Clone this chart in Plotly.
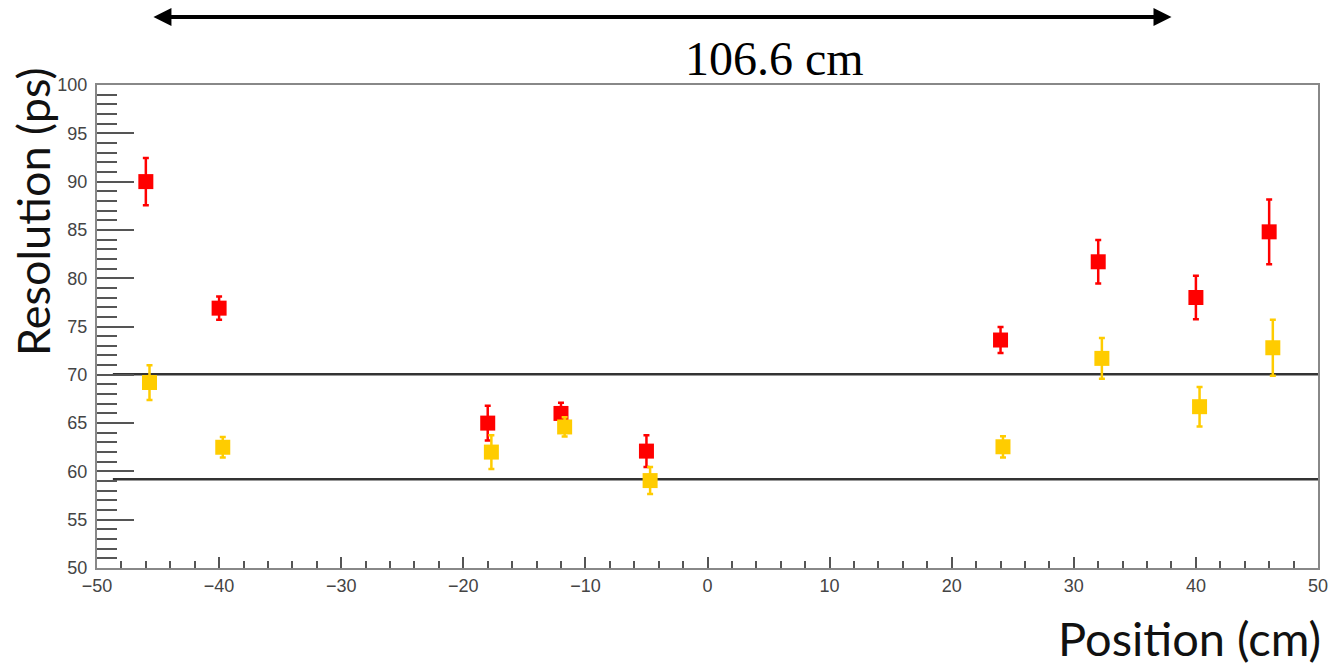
import plotly.graph_objects as go

# Data
positions = [-46, -40, -18, -12, -5, 24, 32, 40, 46]
red_res = [90.0, 76.9, 65.0, 66.0, 62.1, 73.6, 81.7, 78.0, 84.8]
red_err = [2.45, 1.2, 1.8, 1.1, 1.65, 1.35, 2.25, 2.25, 3.35]
yellow_pos = [-45.7, -39.7, -17.7, -11.7, -4.7, 24.2, 32.3, 40.3, 46.3]
yellow_res = [69.2, 62.5, 62.0, 64.6, 59.05, 62.55, 71.7, 66.7, 72.8]
yellow_err = [1.8, 1.05, 1.75, 1.0, 1.4, 1.1, 2.1, 2.05, 2.9]
hline_values = [70.05, 59.2]
hline_x = [-48.7, 50]

RED = "#ff0000"
YEL = "#ffcc00"

fig = go.Figure()

for hv in hline_values:
    fig.add_trace(go.Scatter(x=hline_x, y=[hv, hv], mode="lines",
                             line=dict(color="#333333", width=2.5),
                             hoverinfo="skip", showlegend=False))

fig.add_trace(go.Scatter(
    x=positions, y=red_res, mode="markers",
    marker=dict(symbol="square", size=15, color=RED),
    error_y=dict(type="data", array=red_err, color=RED, thickness=2.5, width=3),
    showlegend=False))

fig.add_trace(go.Scatter(
    x=yellow_pos, y=yellow_res, mode="markers",
    marker=dict(symbol="square", size=15, color=YEL),
    error_y=dict(type="data", array=yellow_err, color=YEL, thickness=2.5, width=3),
    showlegend=False))

tickfont = dict(family="Liberation Sans, Arial, sans-serif", size=18, color="#444444")

fig.update_xaxes(
    range=[-50, 50], dtick=10, tick0=0,
    ticks="inside", ticklen=11, tickwidth=1.5, tickcolor="#555555",
    minor=dict(dtick=2, ticks="inside", ticklen=7, tickwidth=1.5, tickcolor="#555555"),
    showline=True, linecolor="#888888", linewidth=2, mirror=True,
    showgrid=False, zeroline=False, tickfont=tickfont,
    ticklabelstandoff=0, automargin=False,
)
fig.update_yaxes(
    range=[50, 100], dtick=5, tick0=0,
    ticks="inside", ticklen=37, tickwidth=1.5, tickcolor="#555555",
    minor=dict(dtick=1, ticks="inside", ticklen=20, tickwidth=2, tickcolor="#555555"),
    showline=True, linecolor="#888888", linewidth=2, mirror=True,
    showgrid=False, zeroline=False, tickfont=tickfont,
    ticklabelstandoff=4, automargin=False,
)

fig.add_annotation(
    x=38.0, y=1.141, xref="x", yref="paper",
    ax=-45.5, ay=0, axref="x", ayref="pixel",
    text="", showarrow=True, arrowside="end+start",
    arrowhead=2, arrowsize=0.9, arrowwidth=4, arrowcolor="#000000",
)
fig.add_annotation(
    x=5.5, xref="x", y=(568 - 58) / 483, yref="paper", text="106.6 cm", showarrow=False,
    xanchor="center", yanchor="middle",
    font=dict(family="Liberation Serif, Times New Roman, serif", size=48, color="#000000"),
)

fig.add_annotation(
    x=(33 - 97) / 1221, y=(568 - 212) / 483, xref="paper", yref="paper",
    text="Resolution (ps)", textangle=-90, showarrow=False,
    xanchor="center", yanchor="middle",
    font=dict(family="Lato, Open Sans, sans-serif", size=45, color="#111111"),
)
fig.add_annotation(
    x=(1323 - 97) / 1221, y=(568 - 638) / 483, xref="paper", yref="paper",
    text="Position (cm)", showarrow=False,
    xanchor="right", yanchor="middle",
    font=dict(family="Lato, Open Sans, sans-serif", size=47, color="#111111"),
)

fig.update_layout(
    width=1330, height=667,
    margin=dict(l=97, r=12, t=85, b=99, autoexpand=False),
    paper_bgcolor="white", plot_bgcolor="white",
)

fig.write_html("out.html", config={"displayModeBar": False},
               post_script="document.body.style.margin='0';document.body.style.padding='0';document.body.style.overflow='hidden';")
